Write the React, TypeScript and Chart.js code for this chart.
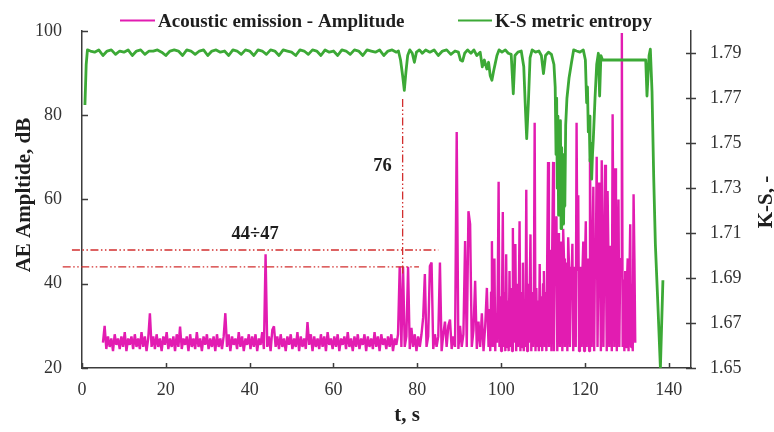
import React, { useEffect, useRef } from 'react';
import { Chart, registerables } from 'chart.js';

Chart.register(...registerables);

const FONT = '"Liberation Serif", "Times New Roman", serif';
const PINK = '#e21cb1';
const GREEN = '#3ca936';
const RED = '#d22f2f';
const AXIS = '#3c3c3c';
const TEXT = '#1e1e1e';

const X_TICKS = [0, 20, 40, 60, 80, 100, 120, 140];
const Y_TICKS = [20, 40, 60, 80, 100];
const Y2_TICKS = [1.65, 1.67, 1.69, 1.71, 1.73, 1.75, 1.77, 1.79];

const LEGEND_LABELS = ['Acoustic emission - Amplitude', 'K-S metric entropy'];
const TITLE_Y = 'AE Ampltide, dB';
const TITLE_Y2 = 'K-S, -';
const TITLE_X = 't, s';

// Acoustic emission amplitude, dB — part A: t = 5.0 s, every 0.4 s
const AE_A_START = 5.0;
const AE_A_STEP = 0.4;
const AE_A = [
  26, 30, 24.5, 27.5, 25, 27, 24, 28, 25.5, 27,
  24.5, 27.5, 25, 28.5, 24, 27, 25.5, 27.5, 24.5, 28,
  25, 27, 24.5, 28.5, 25, 27.5, 24, 27, 33, 25,
  27.5, 24.5, 28, 25, 27, 24, 27.5, 25.5, 28.5, 24.5,
  27, 25, 27.5, 24, 28, 25, 29.8, 24.5, 27, 25.5,
  27.5, 24, 28, 25, 27, 24.5, 28.5, 25, 27, 24,
  27.5, 25.5, 28, 24.5, 27, 25, 27.5, 24, 28, 25,
  27, 24.5, 27.5, 33, 25, 28, 24, 27.5, 25.5, 27,
  24.5, 28.5, 25, 27.5, 24, 27, 25.5, 28, 24.5, 27.5,
  25, 28, 24, 27, 25.5, 28.5, 24.5, 47, 25, 27.5,
  24, 29, 29.9, 25, 27.5, 24.5, 28, 25, 27, 24,
  27.5, 25.5, 28, 24.5, 27, 25, 28.5, 24, 27.5, 25,
  27, 24.5, 30.9, 25.5, 28, 24, 27.5, 25, 27, 24.5,
  28, 25, 27.5, 24, 28.5, 25.5, 27, 24.5, 27.5, 25,
  28, 24, 27, 25.5, 27.5, 24.5, 28.5, 25, 27, 24,
  27.5, 25, 28, 24.5, 27, 25.5, 28, 24, 27.5, 25,
  27, 24.5, 28.5, 25, 27.5, 24, 28, 25.5, 27, 24.5,
  27.5, 25, 28, 24, 27, 25.5, 28, 44, 25, 44,
  25, 27.5, 44, 24.5, 29.5, 25, 28, 24, 27.5, 25,
  28, 32, 42.3, 25, 27.5, 44.2, 45, 24.5, 28, 25,
  27.5, 45, 24, 28, 31, 25, 30, 31.5, 24.5, 27.5,
  25, 76, 24.5, 30, 25, 28, 50.1, 25, 57.2, 54.1,
  25, 29, 40.7, 24.5, 31, 25, 33, 24, 30, 39,
];

// Acoustic emission amplitude, dB — part B: t = 97.0 s, every 0.2 s
const AE_B_START = 97.0;
const AE_B_STEP = 0.2;
const AE_B = [
  25, 34, 24, 38, 50.1, 25, 36, 46, 24, 33,
  26, 40, 64.2, 25, 37, 24, 35, 57, 25, 38,
  24, 47, 25, 36, 24, 43, 25, 39, 24, 53.2,
  26, 37, 49.4, 24, 40, 25, 35, 54.8, 24, 38,
  25, 45, 24, 36, 25, 62.3, 24, 40, 26, 37,
  51.7, 24, 38, 25, 35, 78.2, 24, 39, 25, 36,
  24, 44.7, 25, 37, 24, 40, 43, 25, 38, 24,
  47, 68.9, 25, 48, 46, 24, 50, 68.9, 24, 49,
  47, 56, 24, 48, 52, 25, 50, 47, 24, 53,
  46, 25, 45, 42, 24, 51, 44, 25, 43, 41,
  49.5, 24, 42, 44, 25, 78.2, 43, 61, 24, 42,
  44, 25, 43, 50, 24, 45, 54.8, 25, 44, 46,
  24, 69.7, 46, 25, 47, 63, 24, 48, 46, 70.1,
  25, 46, 64, 47, 24, 69.3, 45, 25, 48, 68.2,
  46, 24, 62, 47, 25, 49, 46, 24, 80.2, 47,
  25, 67.4, 46, 24, 45, 60, 25, 44, 46, 99.5,
  25, 41, 24, 43, 25, 40, 46, 24, 41, 54.1,
  25, 40, 24, 61.2, 46, 26,
];

// K-S metric entropy
const KS_T = [
  0.7, 1.0, 1.3, 2, 3, 4, 5, 6, 7, 8, 9, 10, 11, 12, 13, 14, 15, 16, 17, 18, 19,
  20, 21, 22, 23, 24, 25, 26, 27, 28, 29, 30, 31, 32, 33, 34, 35, 36, 37, 38, 39,
  40, 41, 42, 43, 44, 45, 46, 47, 48, 49, 50, 51, 52, 53, 54, 55, 56, 57, 58, 59,
  60, 61, 62, 63, 64, 65, 66, 67, 68, 69, 70, 71, 72, 73, 74, 75,
  75.5, 76.0, 76.5, 76.9, 77.3, 77.7, 78.2, 78.8, 79.3, 79.8, 80.5, 81.2, 82, 83, 84, 85,
  86, 87, 88, 89, 89.8, 90.3, 90.8, 91.3, 92, 92.8, 93.5, 94.2, 95.0, 95.5, 96.0, 96.6,
  97.0, 97.4, 97.8, 98.2, 98.6, 99.0, 99.5, 100.2, 101.0, 101.7, 102.4, 102.9, 103.3, 104, 104.8,
  105.4, 105.8, 106.1, 106.5, 106.9, 107.4, 108.2, 109, 109.6, 110.1, 110.6, 111.3, 112.0, 112.6,
  112.9, 113.1, 113.25, 113.4, 113.55, 113.7, 113.85, 114.0, 114.15, 114.3, 114.45, 114.6,
  114.75, 114.9, 115.05, 115.2, 115.4, 115.7, 116.2, 116.8, 117.3, 118,
  118.8, 119.6, 120.1, 120.4, 120.6, 120.8, 121.0, 121.2, 121.4, 121.6, 121.8, 122.0, 122.4,
  122.8, 123.2, 123.5, 123.8, 124.2,
  134.5, 134.8, 135.3, 135.6, 136.0, 136.4, 136.8, 137.4, 138.0, 138.6,
];
const KS_V = [
  1.767, 1.785, 1.7915, 1.791, 1.7905, 1.7915, 1.789, 1.791, 1.7915, 1.7895, 1.791, 1.7905, 1.7915, 1.789, 1.791, 1.7915, 1.7895, 1.791, 1.791, 1.7915, 1.7905,
  1.789, 1.791, 1.7915, 1.791, 1.789, 1.7915, 1.791, 1.7895, 1.791, 1.7915, 1.789, 1.791, 1.7915, 1.7905, 1.791, 1.789, 1.7915, 1.791, 1.7895, 1.7915,
  1.791, 1.789, 1.7915, 1.791, 1.7895, 1.7915, 1.791, 1.789, 1.7915, 1.791, 1.7905, 1.789, 1.7915, 1.791, 1.7895, 1.7915, 1.791, 1.789, 1.7915, 1.7905,
  1.791, 1.789, 1.7915, 1.791, 1.7895, 1.7915, 1.791, 1.789, 1.7915, 1.791, 1.7905, 1.7915, 1.789, 1.791, 1.7915, 1.7905,
  1.791, 1.787, 1.780, 1.7735, 1.782, 1.789, 1.7915, 1.790, 1.786, 1.7905, 1.7915, 1.790, 1.7915, 1.7905, 1.7915, 1.789,
  1.791, 1.7915, 1.7895, 1.791, 1.7905, 1.787, 1.7865, 1.790, 1.7915, 1.790, 1.7915, 1.789, 1.7905, 1.784, 1.787, 1.783,
  1.786, 1.780, 1.778, 1.782, 1.7855, 1.789, 1.7915, 1.7905, 1.7915, 1.790, 1.7895, 1.772, 1.789, 1.7905, 1.791,
  1.784, 1.765, 1.752, 1.768, 1.788, 1.7915, 1.7905, 1.791, 1.789, 1.781, 1.789, 1.7905, 1.7895, 1.785,
  1.775, 1.745, 1.770, 1.730, 1.762, 1.718, 1.755, 1.725, 1.760, 1.712, 1.748, 1.716,
  1.745, 1.714, 1.740, 1.722, 1.758, 1.770, 1.779, 1.786, 1.7915, 1.791,
  1.7905, 1.7915, 1.787, 1.768, 1.775, 1.755, 1.762, 1.742, 1.750, 1.734, 1.745, 1.752, 1.770,
  1.785, 1.790, 1.771, 1.789, 1.787,
  1.787, 1.771, 1.789, 1.7918, 1.773, 1.735, 1.705, 1.678, 1.650, 1.689,
];

// Dash-dot guide lines (data units, left axis)
const GUIDE_X = [
  [-4.6, 80.4],
  [-2.4, 85.0],
  [76.5, 76.5],
];
const GUIDE_Y = [
  [44, 44],
  [48, 48],
  [83.8, 41.9],
];
const NOTE_TEXT = ['76', '44÷47'];
const NOTE_X = [71.7, 41.3];
const NOTE_Y = [66.8, 50.6];

const overlay = {
  id: 'overlay',
  afterDraw(chart: any) {
    const ctx: CanvasRenderingContext2D = chart.ctx;
    const sx = chart.scales.x;
    const sy = chart.scales.y;
    const sy2 = chart.scales.y2;
    const area = chart.chartArea;
    ctx.save();
    // tick marks
    ctx.strokeStyle = AXIS;
    ctx.lineWidth = 1.5;
    ctx.beginPath();
    Y_TICKS.forEach((v) => {
      const p = Math.round(sy.getPixelForValue(v)) + 0.5;
      ctx.moveTo(area.left, p);
      ctx.lineTo(area.left + 6, p);
    });
    X_TICKS.forEach((v) => {
      const p = Math.round(sx.getPixelForValue(v)) + 0.5;
      ctx.moveTo(p, area.bottom);
      ctx.lineTo(p, area.bottom - 5);
    });
    Y2_TICKS.forEach((v) => {
      const p = Math.round(sy2.getPixelForValue(v)) + 0.5;
      ctx.moveTo(area.right - 5, p);
      ctx.lineTo(area.right + 5, p);
    });
    ctx.stroke();

    // notes
    ctx.fillStyle = TEXT;
    ctx.font = `bold 18.5px ${FONT}`;
    ctx.textAlign = 'center';
    ctx.textBaseline = 'alphabetic';
    NOTE_TEXT.forEach((t, i) => {
      ctx.fillText(t, sx.getPixelForValue(NOTE_X[i]), sy.getPixelForValue(NOTE_Y[i]));
    });

    // legend
    ctx.font = `bold 19px ${FONT}`;
    ctx.textAlign = 'left';
    ctx.lineWidth = 2;
    ctx.strokeStyle = PINK;
    ctx.beginPath();
    ctx.moveTo(120, 20.5);
    ctx.lineTo(155, 20.5);
    ctx.stroke();
    ctx.fillText(LEGEND_LABELS[0], 158, 26.5);
    ctx.strokeStyle = GREEN;
    ctx.beginPath();
    ctx.moveTo(458, 20.5);
    ctx.lineTo(492, 20.5);
    ctx.stroke();
    ctx.fillText(LEGEND_LABELS[1], 495, 26.5);

    // axis titles
    ctx.font = `bold 21px ${FONT}`;
    ctx.textAlign = 'center';
    ctx.fillText(TITLE_X, 407, 421);
    ctx.save();
    ctx.translate(30, 195);
    ctx.rotate(-Math.PI / 2);
    ctx.fillText(TITLE_Y, 0, 0);
    ctx.restore();
    ctx.save();
    ctx.translate(772, 202);
    ctx.rotate(-Math.PI / 2);
    ctx.fillText(TITLE_Y2, 0, 0);
    ctx.restore();
    ctx.restore();
  },
};

export default function App() {
  const ref = useRef<HTMLCanvasElement>(null);
  useEffect(() => {
    const aePts = [
      ...AE_A.map((v, i) => ({ x: +(AE_A_START + i * AE_A_STEP).toFixed(2), y: v })),
      ...AE_B.map((v, i) => ({ x: +(AE_B_START + i * AE_B_STEP).toFixed(2), y: v })),
    ];
    const ksPts = KS_T.map((t, i) => ({ x: t, y: KS_V[i] }));
    const guides = GUIDE_X.map((xs, k) => ({
      label: 'guide' + k,
      data: xs.map((xv, i) => ({ x: xv, y: GUIDE_Y[k][i] })),
      borderColor: RED,
      borderWidth: 1.3,
      borderDash: [8, 2.5, 1.5, 2.5, 1.5, 2.5],
      pointRadius: 0,
      clip: false,
      yAxisID: 'y',
    }));
    const tickFont = { family: FONT, size: 18 };
    const chart = new Chart(ref.current!, {
      type: 'line',
      data: {
        datasets: [
          ...guides,
          {
            label: LEGEND_LABELS[1],
            data: ksPts,
            borderColor: GREEN,
            borderWidth: 2.8,
            borderJoinStyle: 'round',
            pointRadius: 0,
            yAxisID: 'y2',
          },
          {
            label: LEGEND_LABELS[0],
            data: aePts,
            borderColor: PINK,
            borderWidth: 2.4,
            borderJoinStyle: 'bevel',
            pointRadius: 0,
            yAxisID: 'y',
          },
        ] as any,
      },
      options: {
        animation: false,
        responsive: false,
        events: [],
        layout: { padding: { top: 28, left: 0, right: 0, bottom: 0 } },
        plugins: { legend: { display: false }, tooltip: { enabled: false } },
        scales: {
          x: {
            type: 'linear',
            position: 'bottom',
            min: 0,
            max: 145.3,
            afterBuildTicks: (s: any) => {
              s.ticks = X_TICKS.map((v) => ({ value: v }));
            },
            afterFit: (s: any) => {
              s.height = 64;
            },
            ticks: { font: tickFont, color: '#333', padding: 11, autoSkip: false, maxRotation: 0 },
            grid: { display: false, drawTicks: false },
            border: { color: AXIS, width: 1.5 },
          },
          y: {
            type: 'linear',
            position: 'left',
            min: 20,
            max: 100,
            afterBuildTicks: (s: any) => {
              s.ticks = Y_TICKS.map((v) => ({ value: v }));
            },
            afterFit: (s: any) => {
              s.width = 82;
            },
            ticks: { font: tickFont, color: '#333', padding: 20, autoSkip: false },
            grid: { display: false, drawTicks: false },
            border: { color: AXIS, width: 1.5 },
          },
          y2: {
            type: 'linear',
            position: 'right',
            min: 1.65,
            max: 1.8,
            afterBuildTicks: (s: any) => {
              s.ticks = Y2_TICKS.map((v) => ({ value: v }));
            },
            afterFit: (s: any) => {
              s.width = 83;
            },
            ticks: {
              font: tickFont,
              color: '#333',
              padding: 19,
              autoSkip: false,
              callback: (v: any) => Number(v).toFixed(2),
            },
            grid: { display: false, drawTicks: false },
            border: { color: AXIS, width: 1.5 },
          },
        },
      } as any,
      plugins: [overlay],
    });
    return () => chart.destroy();
  }, []);
  return (
    <div style={{ position: 'absolute', left: 0, top: 0, width: 774, height: 432, background: '#fff' }}>
      <canvas ref={ref} width={774} height={432} style={{ display: 'block' }} />
    </div>
  );
}
